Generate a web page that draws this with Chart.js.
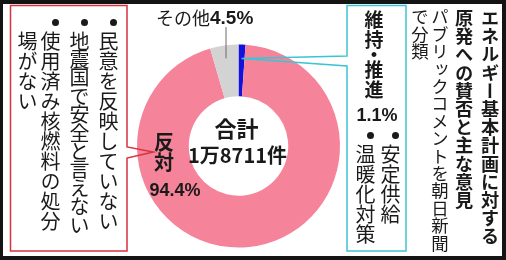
<!DOCTYPE html>
<html lang="ja">
<head>
<meta charset="utf-8">
<script src="https://cdn.jsdelivr.net/npm/chart.js@4/dist/chart.umd.min.js"></script>
<style>
  html, body { margin: 0; padding: 0; }
  body {
    width: 506px; height: 260px; position: relative; overflow: hidden;
    background: #141414; color: #1a1a1a;
    font-family: "Noto Sans CJK JP", "Noto Sans", sans-serif;
  }
  #paper { position: absolute; left: 3px; top: 4px; width: 499px; height: 252px; background: #fff; }
  #chartBox { position: absolute; left: 0; top: 0; width: 506px; height: 260px; }
  .col {
    position: absolute; writing-mode: vertical-rl; white-space: nowrap;
    line-height: 1; font-size: 20px;
  }
  .dot {
    display: inline-block; width: 7px; height: 7px; border-radius: 50%;
    background: #1a1a1a; margin-bottom: 5px; vertical-align: middle;
  }
  .bold { font-weight: 700; }
</style>
</head>
<body>
<div id="paper"></div>
<div id="chartBox"><canvas id="pie" width="506" height="260"></canvas></div>

<!-- 反対の主な意見 -->
<div class="col" style="left:98px; top:19px;"><span class="dot"></span>民意を反映していない</div>
<div class="col" style="left:69px; top:19px; letter-spacing:-1.6px;"><span class="dot"></span>地震国で安全と言えない</div>
<div class="col" style="left:40px; top:19px;"><span class="dot"></span>使用済み核燃料の処分</div>
<div class="col" style="left:17px; top:31px;">場がない</div>

<!-- 維持・推進の主な意見 -->
<div class="col" style="left:380px; top:132px;"><span class="dot"></span>安定供給</div>
<div class="col" style="left:355px; top:132px;"><span class="dot"></span>温暖化対策</div>

<!-- 見出し -->
<div class="col bold" style="left:481px; top:9px; font-size:18.2px;">エネルギー基本計画に対する</div>
<div class="col bold" style="left:455px; top:9px; font-size:18.2px;">原発への賛否と主な意見</div>
<div class="col" style="left:431px; top:8px; font-size:17.4px;">パブリックコメントを朝日新聞</div>
<div class="col" style="left:411px; top:8px; font-size:17.4px;">で分類</div>

<script>
const categories = ['維持・推進', '反対', 'その他'];
const shares = [1.1, 94.4, 4.5];
const totalTitle = '合計';
const totalCount = '1万8711件';
const colors = ['#1212dc', '#f5849a', '#d3d3d3'];

const ink = '#1a1a1a';
const numFont = '"Liberation Sans", Arial, sans-serif';
const jpFont = '"Noto Sans CJK JP", sans-serif';

// point inside an arc, measured from its outer edge
function arcPoint(arc, angle, inset) {
    const r = arc.outerRadius - inset;
    return [arc.x + r * Math.cos(angle), arc.y + r * Math.sin(angle)];
}

function midAngle(arc) {
    return (arc.startAngle + arc.endAngle) / 2;
}

// draw a string top-to-bottom, one glyph at a time
function verticalText(ctx, text, x, top, step, smallStep) {
    let y = top;
    for (const ch of text) {
        const s = ch === '・' ? smallStep : step;
        ctx.fillText(ch, x, y + s / 2);
        y += s;
    }
}

const labelPlugin = {
    id: 'labels',
    afterDraw(chart) {
        const ctx = chart.ctx;
        const arcs = chart.getDatasetMeta(0).data;
        const keep = arcs[0], against = arcs[1], other = arcs[2];
        ctx.save();

        // red box with pointer into 反対
        const pa = Math.PI - 0.07;
        const [rx, ry] = arcPoint(against, pa, 16);
        ctx.strokeStyle = '#d8323c';
        ctx.lineWidth = 1.5;
        ctx.beginPath();
        ctx.moveTo(127, 147);
        ctx.lineTo(127, 5.5);
        ctx.lineTo(10.5, 5.5);
        ctx.lineTo(10.5, 251);
        ctx.lineTo(127, 251);
        ctx.lineTo(127, 158);
        ctx.lineTo(rx, ry);
        ctx.closePath();
        ctx.stroke();

        // cyan box with pointer into 維持・推進
        const [bx, by] = arcPoint(keep, midAngle(keep), 14);
        ctx.strokeStyle = '#3cc4d4';
        ctx.beginPath();
        ctx.moveTo(347, 56);
        ctx.lineTo(347, 5.5);
        ctx.lineTo(406, 5.5);
        ctx.lineTo(406, 251);
        ctx.lineTo(347, 251);
        ctx.lineTo(347, 66);
        ctx.lineTo(bx, by);
        ctx.closePath();
        ctx.stroke();

        // leader line for その他
        const [gx, gy] = arcPoint(other, midAngle(other), 13);
        ctx.strokeStyle = '#6a6a6a';
        ctx.lineWidth = 1;
        ctx.beginPath();
        ctx.moveTo(gx, 27);
        ctx.lineTo(gx, gy);
        ctx.stroke();

        ctx.fillStyle = ink;
        ctx.textBaseline = 'middle';

        // その他 4.5%
        ctx.textAlign = 'left';
        ctx.font = '18px ' + jpFont;
        ctx.fillText(categories[2], 156, 18);
        const w = ctx.measureText(categories[2]).width;
        ctx.font = 'bold 19px ' + numFont;
        ctx.fillText(shares[2] + '%', 156 + w, 19);

        // centre total
        ctx.textAlign = 'center';
        const cx = keep.x;
        ctx.font = 'bold 22px ' + jpFont;
        ctx.fillText(totalTitle, cx - 2, 129);
        ctx.font = 'bold 20px ' + jpFont;
        ctx.fillText(totalCount, cx - 1, 155);

        // 反対 94.4%
        ctx.font = 'bold 20px ' + jpFont;
        verticalText(ctx, categories[1], 164, 132, 20, 20);
        ctx.font = 'bold 18px ' + numFont;
        ctx.fillText(shares[1] + '%', 175, 191);

        // 維持・推進 1.1%
        ctx.font = 'bold 19px ' + jpFont;
        verticalText(ctx, categories[0], 374, 10, 20, 10);
        ctx.font = 'bold 18px ' + numFont;
        ctx.fillText(shares[0] + '%', 377, 116);

        ctx.restore();
    }
};

new Chart(document.getElementById('pie'), {
    type: 'doughnut',
    data: {
        labels: categories,
        datasets: [{
            data: shares,
            backgroundColor: colors,
            borderWidth: 0,
            hoverOffset: 0
        }]
    },
    options: {
        responsive: false,
        animation: false,
        cutout: '49%',
        rotation: 0,
        layout: { padding: { left: 137, right: 166, top: 44, bottom: 12 } },
        plugins: {
            legend: { display: false },
            tooltip: { enabled: false }
        },
        events: []
    },
    plugins: [labelPlugin]
});
</script>
</body>
</html>
